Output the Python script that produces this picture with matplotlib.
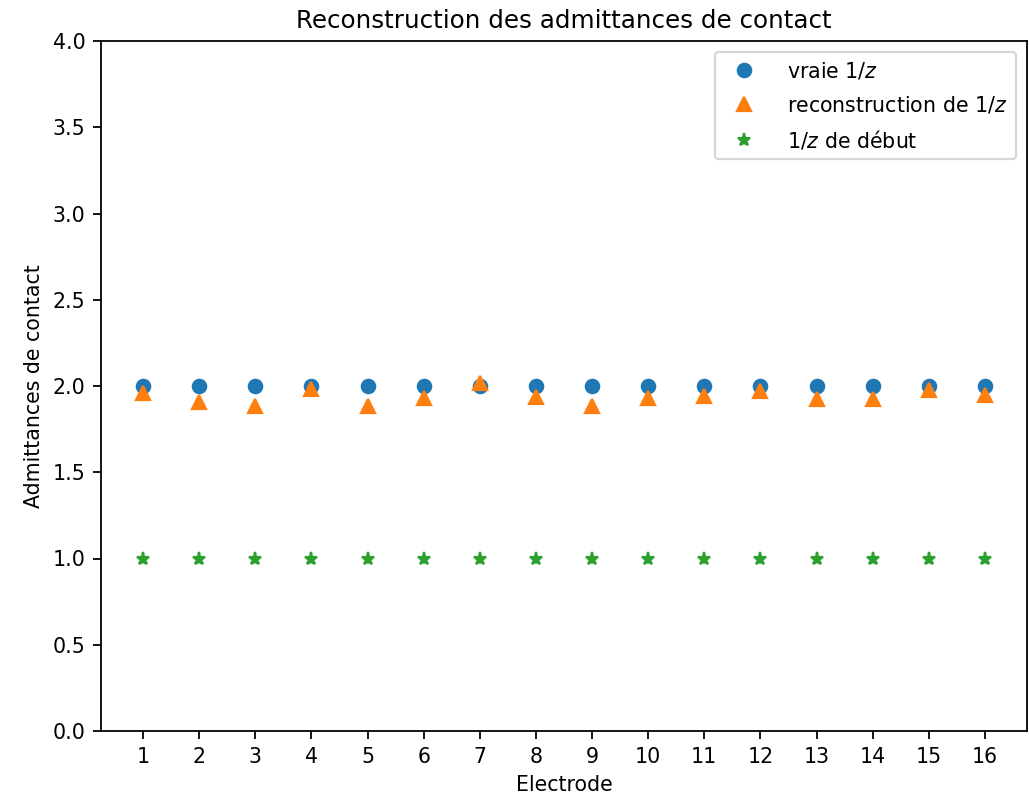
import matplotlib
matplotlib.use("Agg")
import matplotlib.pyplot as plt
import numpy as np

electrodes = list(range(1, 17))
vraie = [2.0] * 16
reconstruction = [1.96, 1.905, 1.885, 1.98, 1.885, 1.93, 2.02, 1.935,
                  1.885, 1.93, 1.94, 1.97, 1.925, 1.925, 1.975, 1.95]
debut = [1.0] * 16

plt.rcParams['font.size'] = 9.25

fig = plt.figure(figsize=(1029/160, 796/160), dpi=160)
ax = fig.add_axes([101/1029, 1 - 731/796, (1027 - 101)/1029, (731 - 41)/796])
ax.plot(electrodes, vraie, 'o', linestyle='none', label=r'vraie 1/$z$')
ax.plot(electrodes, reconstruction, '^', linestyle='none', label=r'reconstruction de 1/$z$')
ax.plot(electrodes, debut, '*', linestyle='none', label=r'1/$z$ de début')
ax.set_ylim(0, 4)
ax.set_xticks(electrodes)
ax.set_xlabel('Electrode')
ax.set_ylabel('Admittances de contact')
ax.set_title('Reconstruction des admittances de contact')
ax.legend(loc='upper right', labelspacing=0.62, handletextpad=1.1,
          borderaxespad=0.55)
fig.savefig('out.png', dpi=160)
